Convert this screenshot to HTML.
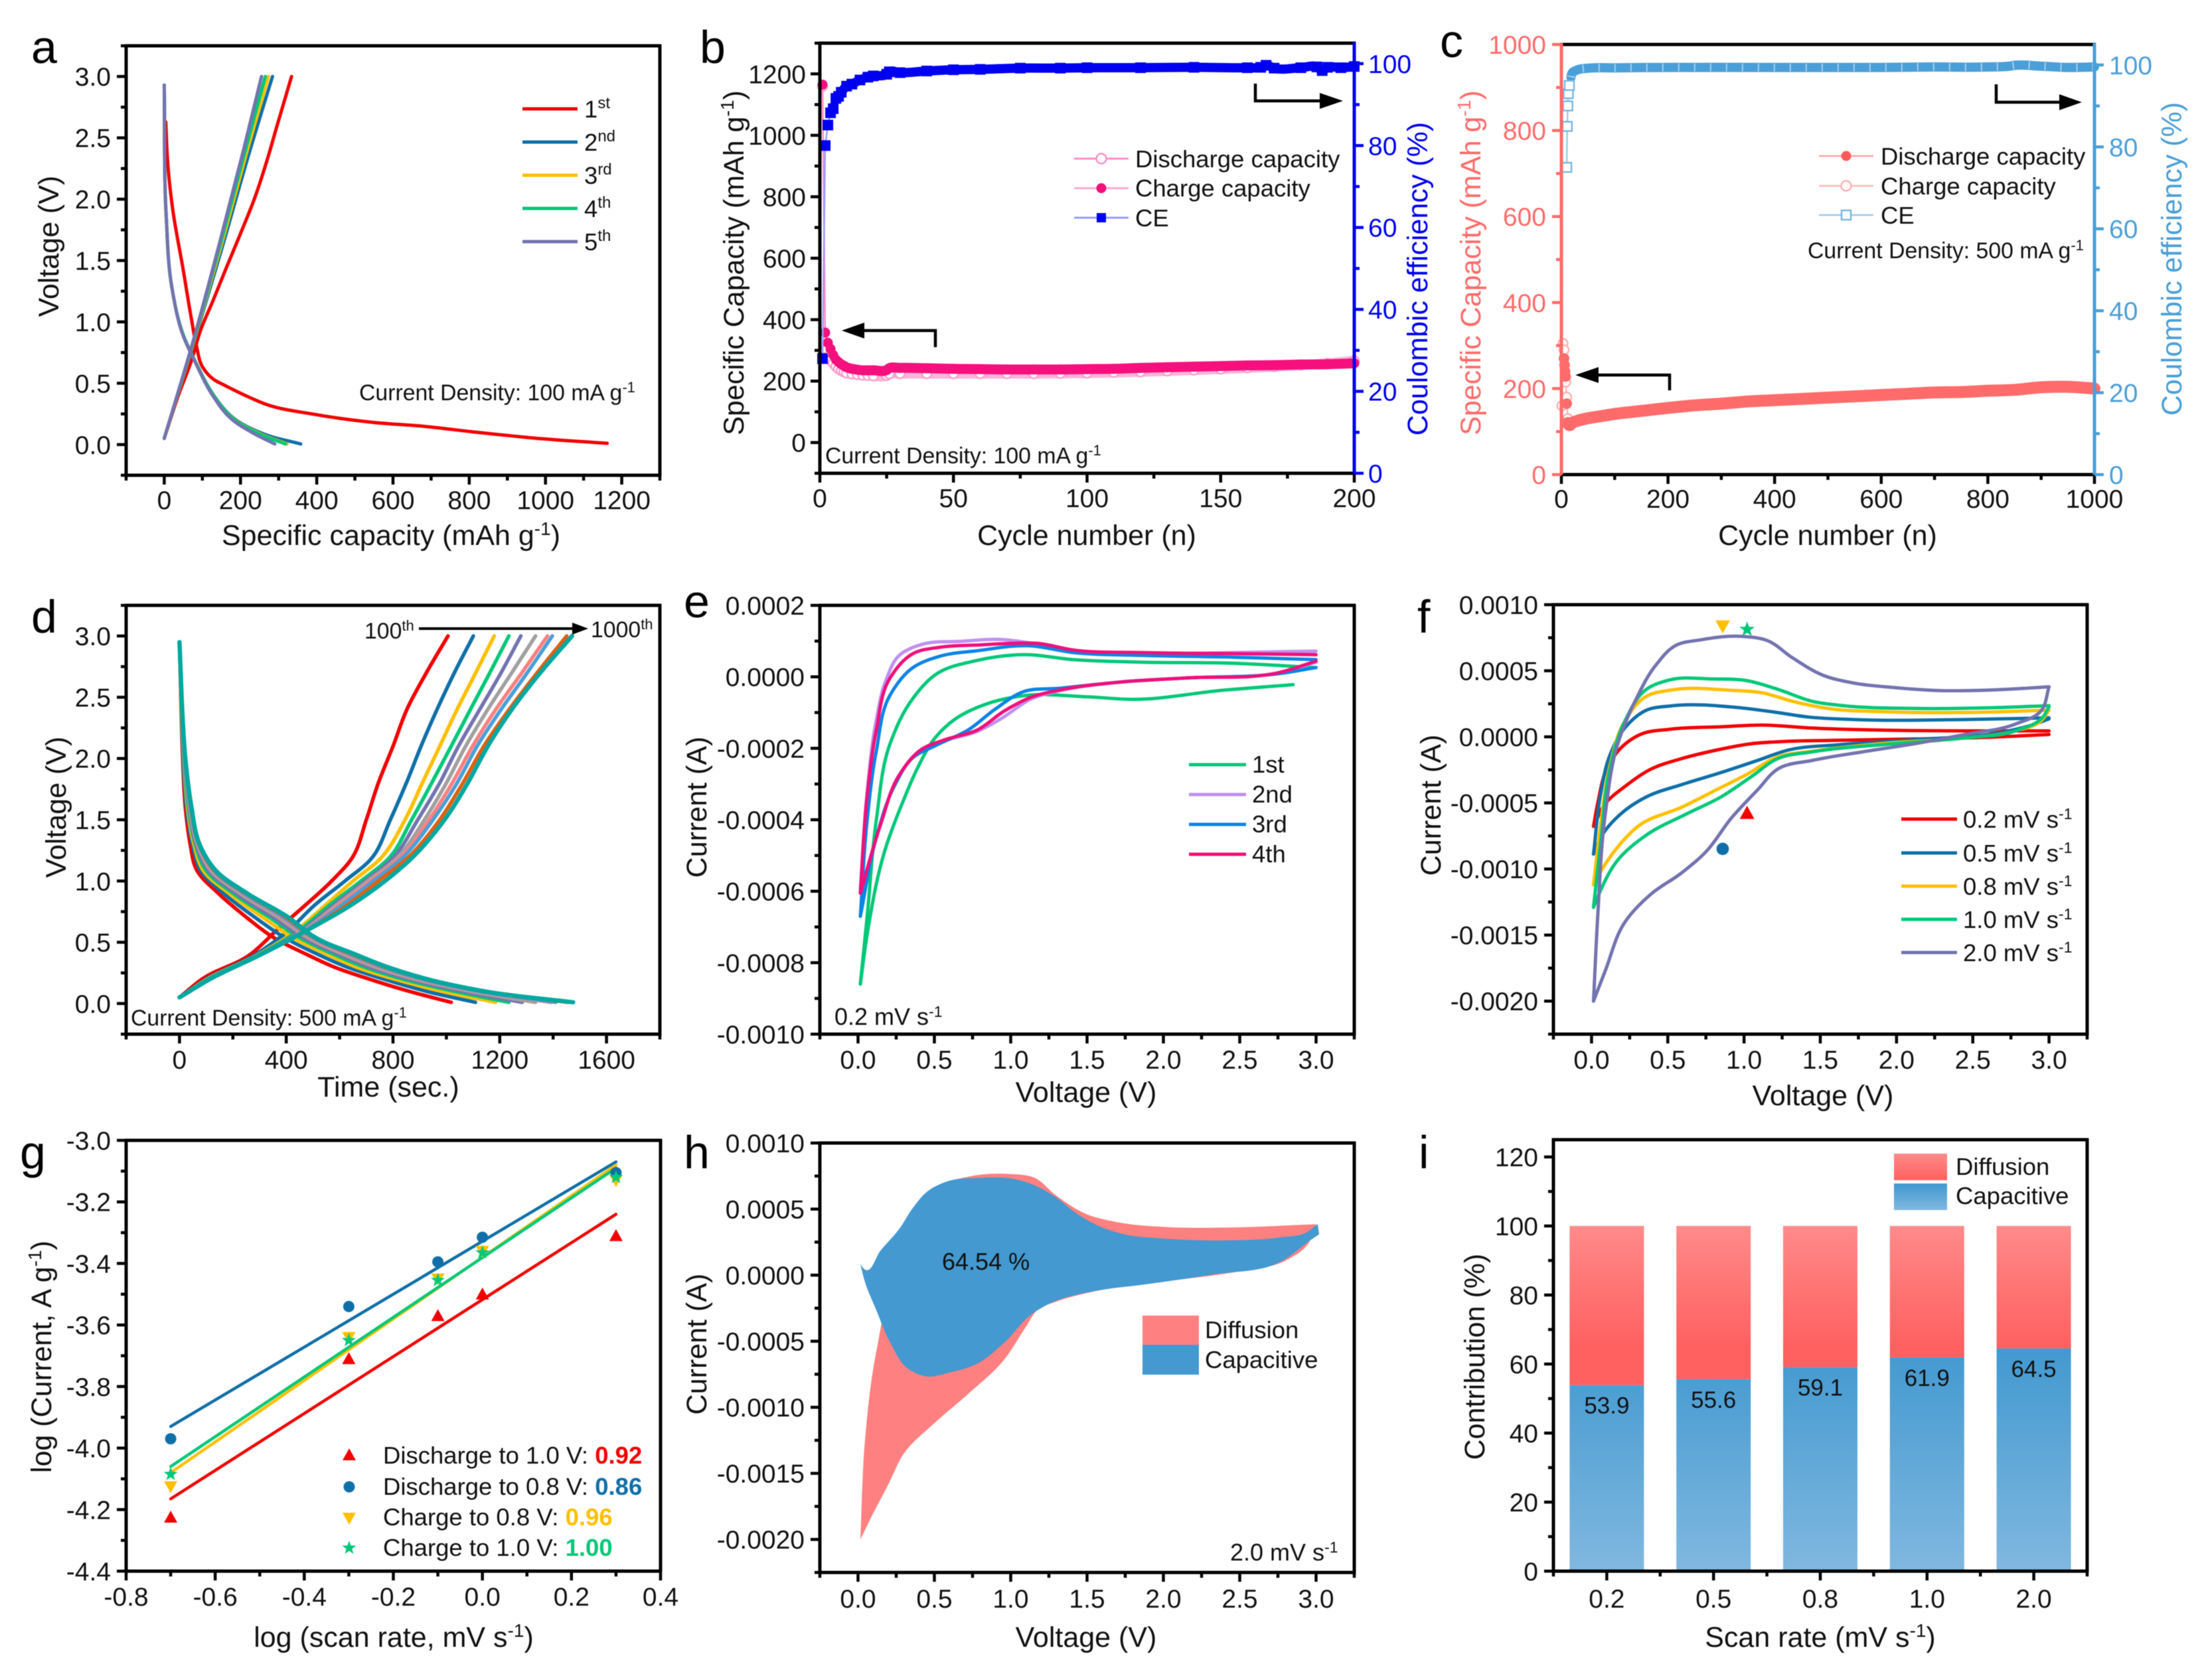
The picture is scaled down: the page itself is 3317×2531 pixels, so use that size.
<!DOCTYPE html>
<html lang="en">
<head>
<meta charset="utf-8">
<title>Electrochemical performance figure</title>
<style>
html,body{margin:0;padding:0;background:#fff;}
svg{display:block;font-family:"Liberation Sans",sans-serif;filter:blur(0.6px);}
.lt{font-size:70px;fill:#000;}
.at{font-size:43px;fill:#111;}
.lg{font-size:36.5px;fill:#111;}
.an{font-size:33.8px;fill:#111;}
.an2{font-size:36px;fill:#111;}
</style>
</head>
<body>
<svg id="figure" xmlns="http://www.w3.org/2000/svg" width="3317" height="2531" viewBox="0 0 3317 2531">
<defs>
<linearGradient id="grad-diff" x1="0" y1="0" x2="0" y2="1"><stop offset="0" stop-color="#ff8a8a"/><stop offset="1" stop-color="#ff6060"/></linearGradient>
<linearGradient id="grad-cap" x1="0" y1="0" x2="0" y2="1"><stop offset="0" stop-color="#4098d0"/><stop offset="1" stop-color="#80b8e0"/></linearGradient>
<linearGradient id="grad-cap-bar" gradientUnits="userSpaceOnUse" x1="0" y1="2020" x2="0" y2="2367"><stop offset="0" stop-color="#4098d0"/><stop offset="1" stop-color="#80b8e0"/></linearGradient>
<linearGradient id="grad-diff-bar" gradientUnits="userSpaceOnUse" x1="0" y1="1848" x2="0" y2="2030"><stop offset="0" stop-color="#ff8a8a"/><stop offset="1" stop-color="#ff6060"/></linearGradient>
</defs>
<rect width="3317" height="2531" fill="#fff"/>

<g id="panel-a">
  <g id="a-marks"></g>
  <text class="lt" x="47" y="95">a</text>
  <text class="at" x="589" y="821" text-anchor="middle">Specific capacity (mAh g<tspan dy="-15" font-size="28">-1</tspan><tspan dy="15">)</tspan></text>
  <text class="at" transform="translate(88 371) rotate(-90)" text-anchor="middle">Voltage (V)</text>
  <text class="an" x="541" y="603">Current Density: 100 mA g<tspan dy="-12" font-size="22">-1</tspan></text>
  <g>
    <line x1="787" x2="870" y1="164" y2="164" stroke="#f20000" stroke-width="5"/>
    <line x1="787" x2="870" y1="214" y2="214" stroke="#0f6fa8" stroke-width="5"/>
    <line x1="787" x2="870" y1="264" y2="264" stroke="#ffc000" stroke-width="5"/>
    <line x1="787" x2="870" y1="314" y2="314" stroke="#00c878" stroke-width="5"/>
    <line x1="787" x2="870" y1="364" y2="364" stroke="#7373b0" stroke-width="5"/>
    <text class="lg" x="880" y="177">1<tspan dy="-14" font-size="24">st</tspan></text>
    <text class="lg" x="880" y="227">2<tspan dy="-14" font-size="24">nd</tspan></text>
    <text class="lg" x="880" y="277">3<tspan dy="-14" font-size="24">rd</tspan></text>
    <text class="lg" x="880" y="327">4<tspan dy="-14" font-size="24">th</tspan></text>
    <text class="lg" x="880" y="377">5<tspan dy="-14" font-size="24">th</tspan></text>
  </g>
</g>

<g id="panel-b">
  <g id="b-marks"></g>
  <text class="lt" x="1054" y="95">b</text>
  <text class="at" x="1637" y="821" text-anchor="middle">Cycle number (n)</text>
  <text class="at" transform="translate(1120 396) rotate(-90)" text-anchor="middle">Specific Capacity (mAh g<tspan dy="-15" font-size="28">-1</tspan><tspan dy="15">)</tspan></text>
  <text class="at" transform="translate(2150 420) rotate(-90)" text-anchor="middle" style="fill:#0000f0">Coulombic efficiency (%)</text>
  <text class="an" x="1243" y="698">Current Density: 100 mA g<tspan dy="-12" font-size="22">-1</tspan></text>
  <g fill="none">
    <path d="M1409 523V498H1290" stroke="#000" stroke-width="4.5"/><path d="M1268 498L1302 486V510Z" fill="#000"/>
  </g>
  <g fill="none">
    <path d="M1891 126V152H2000" stroke="#000" stroke-width="4.5"/><path d="M2023 152L1988 140V164Z" fill="#000"/>
  </g>
  <g>
    <line x1="1618" x2="1700" y1="239" y2="239" stroke="#ff90c8" stroke-width="3"/>
    <circle cx="1659" cy="239" r="7.5" fill="#fff" stroke="#ff90c8" stroke-width="2.5"/>
    <line x1="1618" x2="1700" y1="283.5" y2="283.5" stroke="#ffaad4" stroke-width="3"/>
    <circle cx="1659" cy="283.5" r="7.5" fill="#f0107a"/>
    <line x1="1618" x2="1700" y1="328" y2="328" stroke="#9a9aff" stroke-width="3"/>
    <rect x="1652" y="321" width="14" height="14" fill="#0000f0"/>
    <text class="lg" x="1710" y="252">Discharge capacity</text>
    <text class="lg" x="1710" y="296">Charge capacity</text>
    <text class="lg" x="1710" y="341">CE</text>
  </g>
</g>

<g id="panel-c">
  <g id="c-marks"></g>
  <text class="lt" x="2169" y="86">c</text>
  <text class="at" x="2753" y="821" text-anchor="middle">Cycle number (n)</text>
  <text class="at" transform="translate(2230 396) rotate(-90)" text-anchor="middle" style="fill:#ff6b6b">Specific Capacity (mAh g<tspan dy="-15" font-size="28">-1</tspan><tspan dy="15">)</tspan></text>
  <text class="at" transform="translate(3286 390) rotate(-90)" text-anchor="middle" style="fill:#4a9fd8">Coulombic efficiency (%)</text>
  <text class="an" x="2723" y="389">Current Density: 500 mA g<tspan dy="-12" font-size="22">-1</tspan></text>
  <g fill="none">
    <path d="M2515 588V565H2395" stroke="#000" stroke-width="4.5"/><path d="M2373 565L2408 553V577Z" fill="#000"/>
  </g>
  <g fill="none">
    <path d="M3007 127V154H3115" stroke="#000" stroke-width="4.5"/><path d="M3136 154L3102 142V166Z" fill="#000"/>
  </g>
  <g>
    <line x1="2740" x2="2822" y1="235" y2="235" stroke="#ffa0a0" stroke-width="2.5"/>
    <circle cx="2781" cy="235" r="7.5" fill="#ff5a5a"/>
    <line x1="2740" x2="2822" y1="280" y2="280" stroke="#ffc0c0" stroke-width="3"/>
    <circle cx="2781" cy="280" r="7.5" fill="#fff" stroke="#ffb0b0" stroke-width="2.5"/>
    <line x1="2740" x2="2822" y1="324" y2="324" stroke="#9ccaec" stroke-width="2.5"/>
    <rect x="2774" y="317" width="14" height="14" fill="#fff" stroke="#7bb8e2" stroke-width="2.5"/>
    <text class="lg" x="2833" y="248">Discharge capacity</text>
    <text class="lg" x="2833" y="293">Charge capacity</text>
    <text class="lg" x="2833" y="337">CE</text>
  </g>
</g>

<g id="panel-d">
  <g id="d-marks"></g>
  <text class="lt" x="47" y="953">d</text>
  <text class="at" x="585" y="1652" text-anchor="middle">Time (sec.)</text>
  <text class="at" transform="translate(99 1216) rotate(-90)" text-anchor="middle">Voltage (V)</text>
  <text class="an" x="197" y="1545">Current Density: 500 mA g<tspan dy="-12" font-size="22">-1</tspan></text>
  <text class="an" x="549" y="962">100<tspan dy="-12" font-size="22">th</tspan></text>
  <text class="an" x="890" y="960">1000<tspan dy="-12" font-size="22">th</tspan></text>
  <g>
    <line x1="631" x2="870" y1="947" y2="947" stroke="#000" stroke-width="4"/><path d="M886 947L862 938V956Z" fill="#000"/>
  </g>
</g>

<g id="panel-e">
  <g id="e-marks"></g>
  <text class="lt" x="1030" y="930">e</text>
  <text class="at" x="1636" y="1660" text-anchor="middle">Voltage (V)</text>
  <text class="at" transform="translate(1064 1216) rotate(-90)" text-anchor="middle">Current (A)</text>
  <text class="an2" x="1257" y="1544">0.2 mV s<tspan dy="-12" font-size="23">-1</tspan></text>
  <g>
    <line x1="1791" x2="1877" y1="1152" y2="1152" stroke="#00c878" stroke-width="5"/>
    <line x1="1791" x2="1877" y1="1197" y2="1197" stroke="#c090f0" stroke-width="5"/>
    <line x1="1791" x2="1877" y1="1242" y2="1242" stroke="#0a84e8" stroke-width="5"/>
    <line x1="1791" x2="1877" y1="1287" y2="1287" stroke="#f0107a" stroke-width="5"/>
    <text class="lg" x="1886" y="1164">1st</text>
    <text class="lg" x="1886" y="1209">2nd</text>
    <text class="lg" x="1886" y="1254">3rd</text>
    <text class="lg" x="1886" y="1299">4th</text>
  </g>
</g>

<g id="panel-f">
  <g id="f-marks"></g>
  <text class="lt" x="2135" y="953">f</text>
  <text class="at" x="2746" y="1665" text-anchor="middle">Voltage (V)</text>
  <text class="at" transform="translate(2170 1213) rotate(-90)" text-anchor="middle">Current (A)</text>
  <g>
    <line x1="2864" x2="2948" y1="1234" y2="1234" stroke="#f20000" stroke-width="5"/>
    <line x1="2864" x2="2948" y1="1285" y2="1285" stroke="#0f6fa8" stroke-width="5"/>
    <line x1="2864" x2="2948" y1="1335" y2="1335" stroke="#ffc000" stroke-width="5"/>
    <line x1="2864" x2="2948" y1="1385" y2="1385" stroke="#00c878" stroke-width="5"/>
    <line x1="2864" x2="2948" y1="1435" y2="1435" stroke="#7373b0" stroke-width="5"/>
    <text class="lg" x="2957" y="1247">0.2 mV s<tspan dy="-13" font-size="23">-1</tspan></text>
    <text class="lg" x="2957" y="1298">0.5 mV s<tspan dy="-13" font-size="23">-1</tspan></text>
    <text class="lg" x="2957" y="1348">0.8 mV s<tspan dy="-13" font-size="23">-1</tspan></text>
    <text class="lg" x="2957" y="1398">1.0 mV s<tspan dy="-13" font-size="23">-1</tspan></text>
    <text class="lg" x="2957" y="1448">2.0 mV s<tspan dy="-13" font-size="23">-1</tspan></text>
  </g>
</g>

<g id="panel-g">
  <g id="g-marks"></g>
  <text class="lt" x="30" y="1760">g</text>
  <text class="at" x="593" y="2481" text-anchor="middle">log (scan rate, mV s<tspan dy="-15" font-size="28">-1</tspan><tspan dy="15">)</tspan></text>
  <text class="at" transform="translate(77 2044) rotate(-90)" text-anchor="middle">log (Current, A g<tspan dy="-15" font-size="28">-1</tspan><tspan dy="15">)</tspan></text>
  <g>
    <text class="lg" x="577" y="2205">Discharge to 1.0 V: <tspan fill="#f20000" font-weight="bold">0.92</tspan></text>
    <text class="lg" x="577" y="2252">Discharge to 0.8 V: <tspan fill="#0f6fa8" font-weight="bold">0.86</tspan></text>
    <text class="lg" x="577" y="2298">Charge to 0.8 V: <tspan fill="#ffc000" font-weight="bold">0.96</tspan></text>
    <text class="lg" x="577" y="2344">Charge to 1.0 V: <tspan fill="#00c878" font-weight="bold">1.00</tspan></text>
  </g>
</g>

<g id="panel-h">
  <g id="h-marks"></g>
  <text class="lt" x="1030" y="1760">h</text>
  <text class="at" x="1636" y="2481" text-anchor="middle">Voltage (V)</text>
  <text class="at" transform="translate(1064 2025) rotate(-90)" text-anchor="middle">Current (A)</text>
  <text class="an2" x="1419" y="1913">64.54 %</text>
  <text class="an2" x="1853" y="2351">2.0 mV s<tspan dy="-12" font-size="23">-1</tspan></text>
  <g>
    <rect x="1721" y="1982" width="85" height="44" fill="#ff8080"/>
    <rect x="1721" y="2026" width="85" height="45" fill="#4399d0"/>
    <text class="lg" x="1815" y="2016">Diffusion</text>
    <text class="lg" x="1815" y="2061">Capacitive</text>
  </g>
</g>

<g id="panel-i">
  <g id="i-marks"></g>
  <text class="lt" x="2137" y="1760">i</text>
  <text class="at" x="2742" y="2481" text-anchor="middle">Scan rate (mV s<tspan dy="-15" font-size="28">-1</tspan><tspan dy="15">)</tspan></text>
  <text class="at" transform="translate(2236 2044) rotate(-90)" text-anchor="middle">Contribution  (%)</text>
  <g>
    <rect x="2853" y="1738" width="80" height="40" fill="url(#grad-diff)"/>
    <rect x="2853" y="1783" width="80" height="40" fill="url(#grad-cap)"/>
    <text class="lg" x="2946" y="1770">Diffusion</text>
    <text class="lg" x="2946" y="1814">Capacitive</text>
  </g>
</g>
</svg>

<script>
/* ===== panel a: capacity (mAh/g) vs voltage (V) ===== */
const aXTicks=[0,200,400,600,800,1000,1200];
const aXLabels=['0','200','400','600','800','1000','1200'];
const vTicks325=[0,0.5,1,1.5,2,2.5,3];
const vLabels325=['0.0','0.5','1.0','1.5','2.0','2.5','3.0'];
const aDisV1st=[2.63,2.3,1.92,1.42,1.01,0.81,0.63,0.53,0.49,0.41,0.325,0.25,0.18,0.15,0.105,0.053,0.01];
const aDisC1st=[4,9,22,50,72,84,101,130,154,206,270,387,550,678,806,970,1162];
const aChgV1st=[0.05,0.4,0.69,0.93,1.16,1.42,1.72,2.0,2.3,2.6,3.0];
const aChgC1st=[0,37,72,95,126,160,200,236,268,296,334];
const aChgV=[0.05,0.9,1.63,2.39,3.0];
const aChgC2nd=[0,84,154,224,284];
const aChgC3rd=[0,83,150,217,273];
const aChgC4th=[0,82,147,212,265];
const aChgC5th=[0,81,144,207,255];
const aDisV=[2.93,1.87,1.28,0.9,0.66,0.4,0.22,0.09,0.005];
const aDisC2nd=[0,5,20,49,84,130,180,258,358];
const aDisC3rd=[0,5,20,49,84,130,178,250,322];
const aDisC4th=[0,5,20,49,84,130,177,247,318];
const aDisC5th=[0,5,20,48,83,127,172,235,290];

/* ===== panel b: cycling at 100 mA/g ===== */
const bXTicks=[0,50,100,150,200];
const bXLabels=['0','50','100','150','200'];
const bYTicks=[0,200,400,600,800,1000,1200];
const bYLabels=['0','200','400','600','800','1000','1200'];
const ceTicks=[0,20,40,60,80,100];
const ceLabels=['0','20','40','60','80','100'];
const bCycles=[1,2,3,4,5,6,7,8,9,10,12,14,16,18,20,25,26,30,40,50,60,70,80,90,100,110,120,130,140,150,160,170,180,190,200];
const bCharge=[1165,358,325,305,285,270,262,255,250,245,240,237,235,235,235,236,242,243,242,240,239,238,238,238,239,240,243,245,247,249,251,252,254,255,258];
const bDischarge=[1160,300,280,268,258,248,240,234,230,226,223,221,219,218,217,218,223,224,224,224,224,224,224,225,226,228,230,233,236,239,243,247,252,258,266];
const bCECycles=[1,2,3,4,5,6,7,8,10,12,15,18,20,25,26,30,40,50,60,75,90,100,120,140,160,165,167,170,180,186,188,190,195,200];
const bCE=[28,80,85,88,89,91.5,92,93,94.5,95,96,96.7,97,97.4,98,97.8,98.2,98.5,98.6,98.9,98.9,99,99,99.1,99,99.1,99.6,98.9,99,99.2,98.3,99.1,99,99.3];

/* ===== panel c: cycling at 500 mA/g ===== */
const cXTicks=[0,200,400,600,800,1000];
const cXLabels=['0','200','400','600','800','1000'];
const cYTicks=[0,200,400,600,800,1000];
const cYLabels=['0','200','400','600','800','1000'];
const cCycles=[5,6,7,8,10,12,15,20,30,50,75,100,150,200,250,300,350,400,450,500,550,600,650,700,750,800,850,900,950,1000];
const cDischarge=[270,255,240,228,165,120,115,120,125,131,136,141,148,155,161,165,170,173,176,179,182,185,188,191,192,195,197,203,204,200];
const cChargeCycles=[1,3,5,8,10,12,20];
const cCharge=[160,305,290,215,180,130,120];
const cCECycles=[10,11,12,13,15,18,20,30,50,100,200,400,600,700,800,840,850,900,950,1000];
const cCE=[75,85,90,93,95,97,98,98.8,99.2,99.3,99.4,99.4,99.4,99.5,99.5,99.7,99.9,99.7,99.4,99.5];

/* ===== panel d: voltage vs time for ten cycles ===== */
const dXTicks=[0,400,800,1200,1600];
const dXLabels=['0','400','800','1200','1600'];
const dChgV=[0.05,0.2,0.4,0.6,0.8,1.0,1.2,1.5,1.8,2.1,2.4,2.7,3.0];
const dChg100=[0,85,265,365,470,570,650,700,745,800,852,925,1006];
const dChg200=[0,100,285,410,505,620,725,790,850,905,965,1030,1101];
const dChg300=[0,105,295,440,545,650,760,845,910,975,1040,1110,1179];
const dChg400=[0,108,298,450,560,680,790,870,945,1018,1090,1163,1234];
const dChg500=[0,110,300,460,575,695,805,893,975,1045,1125,1205,1279];
const dChg600=[0,112,302,468,585,705,820,918,1000,1072,1155,1245,1334];
const dChg700=[0,112,303,472,595,715,830,935,1022,1098,1185,1283,1379];
const dChg800=[0,113,303,474,605,725,840,950,1040,1115,1205,1303,1397];
const dChg900=[0,114,305,478,625,745,860,975,1062,1140,1235,1340,1451];
const dChg1000=[0,115,305,480,640,770,876,993,1080,1155,1245,1352,1471];
const dDisV=[2.95,2.5,2.0,1.6,1.3,1.1,0.9,0.7,0.55,0.4,0.3,0.2,0.1,0.01];
const dDis100=[0,5,12,22,40,62,145,253,344,477,577,710,860,1018];
const dDis200=[0,6,14,26,48,75,165,285,385,520,625,765,925,1109];
const dDis300=[0,6,16,30,54,85,185,315,415,555,660,805,985,1184];
const dDis400=[0,7,17,33,59,95,200,340,440,580,690,835,1030,1234];
const dDis500=[0,7,18,36,62,104,212,355,455,598,710,860,1060,1284];
const dDis600=[0,7,19,38,66,112,225,372,470,615,730,880,1090,1334];
const dDis700=[0,8,20,40,69,118,235,385,480,630,745,895,1110,1392];
const dDis800=[0,8,20,41,71,122,240,392,488,640,755,905,1120,1410];
const dDis900=[0,8,21,43,73,126,248,402,495,650,768,918,1135,1455];
const dDis1000=[0,8,22,45,75,130,253,410,500,660,776,926,1142,1475];

/* ===== panel e: CV at 0.2 mV/s, current in units of 1e-4 A ===== */
const voltTicks=[0,0.5,1,1.5,2,2.5,3];
const voltLabels=['0.0','0.5','1.0','1.5','2.0','2.5','3.0'];
const eYTicks=[2,0,-2,-4,-6,-8,-10];
const eYLabels=['0.0002','0.0000','-0.0002','-0.0004','-0.0006','-0.0008','-0.0010'];
const e1UpV=[0.015,0.06,0.12,0.21,0.36,0.51,0.78,1.08,1.41,1.86,2.46,3.0];
const e1UpI=[-8.6,-6.7,-4,-1.87,-0.6,0.07,0.46,0.62,0.48,0.41,0.38,0.26];
const e1DnV=[2.85,2.4,1.8,1.5,1.08,0.84,0.63,0.51,0.39,0.3,0.18,0.06,0.015];
const e1DnI=[-0.22,-0.37,-0.63,-0.56,-0.53,-0.76,-1.2,-1.68,-2.55,-3.43,-4.8,-7.2,-8.6];
const e2UpV=[0.015,0.06,0.12,0.18,0.27,0.42,0.66,0.96,1.14,1.41,1.86,2.46,3.0];
const e2UpI=[-5.95,-3.2,-1.2,-0.13,0.6,0.91,0.99,1.04,0.94,0.75,0.65,0.68,0.72];
const e2DnV=[3.0,2.76,2.16,1.71,1.32,1.14,0.93,0.78,0.57,0.42,0.27,0.15,0.015];
const e2DnI=[0.41,0.12,-0.03,-0.15,-0.39,-0.61,-1.19,-1.53,-1.78,-2.02,-2.75,-4.1,-6.05];
const e3UpV=[0.015,0.06,0.12,0.21,0.36,0.54,0.78,1.11,1.41,1.86,2.46,3.0];
const e3UpI=[-6.7,-4,-2.07,-0.51,0.26,0.58,0.73,0.87,0.68,0.6,0.55,0.48];
const e3DnV=[3.0,2.76,2.16,1.71,1.32,1.08,0.9,0.72,0.51,0.36,0.24,0.12,0.015];
const e3DnI=[0.26,0.09,-0.03,-0.15,-0.32,-0.42,-0.9,-1.49,-1.92,-2.26,-3.04,-4.5,-6.7];
const e4UpV=[0.015,0.06,0.12,0.21,0.36,0.54,0.78,1.02,1.17,1.41,1.86,2.46,3.0];
const e4UpI=[-6.05,-3.33,-1.49,-0.03,0.65,0.83,0.89,0.94,0.94,0.75,0.68,0.65,0.62];
const e4DnV=[3.0,2.76,2.16,1.71,1.32,1.14,0.96,0.78,0.57,0.42,0.27,0.15,0.015];
const e4DnI=[0.44,0.12,-0.03,-0.15,-0.37,-0.56,-0.95,-1.49,-1.76,-2.02,-2.75,-4.1,-6.05];

/* ===== panel f: CV at rates, current in units of 1e-4 A ===== */
const fYTicks=[10,5,0,-5,-10,-15,-20];
const fYLabels=['0.0010','0.0005','0.0000','-0.0005','-0.0010','-0.0015','-0.0020'];
const f02UpV=[0.013,0.04,0.11,0.19,0.32,0.52,0.85,1.12,1.45,1.95,2.45,3.0];
const f02UpI=[-6.77,-5.06,-2.18,-0.87,0.18,0.58,0.76,0.89,0.66,0.5,0.45,0.45];
const f02DnV=[3.0,2.61,2.12,1.62,1.29,1.05,0.82,0.59,0.39,0.22,0.09,0.013];
const f02DnI=[0.18,-0.03,-0.16,-0.26,-0.34,-0.52,-1,-1.65,-2.44,-3.75,-5.06,-6.77];
const f05UpV=[0.013,0.06,0.12,0.22,0.36,0.52,0.95,1.19,1.42,1.72,2.45,3.0];
const f05UpI=[-8.87,-4.3,-1.4,0.7,2.02,2.34,2.23,1.89,1.5,1.31,1.31,1.44];
const f05DnV=[3.0,2.91,2.71,2.12,1.62,1.29,1.09,0.85,0.59,0.36,0.19,0.07,0.013];
const f05DnI=[1.36,0.97,0.39,-0.21,-0.6,-1,-1.78,-2.7,-3.62,-4.54,-5.85,-7.43,-8.87];
const f08UpV=[0.013,0.06,0.12,0.22,0.36,0.52,0.92,1.12,1.32,1.55,1.95,2.45,3.0];
const f08UpI=[-11.2,-6.6,-2.2,1.23,3.07,3.54,3.52,3.33,2.68,2.15,1.89,1.84,2.02];
const f08DnV=[3.0,2.95,2.78,2.45,1.95,1.45,1.22,1.02,0.82,0.59,0.32,0.16,0.07,0.013];
const f08DnI=[2.02,1.23,0.45,-0.08,-0.47,-1.08,-1.52,-2.83,-4,-5.33,-6.64,-8.5,-10,-11.2];
const f10UpV=[0.013,0.06,0.12,0.22,0.36,0.52,0.79,1.02,1.22,1.45,1.65,2.12,2.61,3.0];
const f10UpI=[-12.9,-7.95,-2.44,1.23,3.6,4.33,4.38,4.25,3.6,2.68,2.36,2.15,2.2,2.36];
const f10DnV=[3.0,2.96,2.78,2.45,1.95,1.45,1.22,1.05,0.85,0.62,0.36,0.16,0.06,0.013];
const f10DnI=[2.28,1.5,0.45,-0.08,-0.55,-1.13,-1.65,-3,-4.54,-5.85,-7.43,-9.5,-11.6,-12.9];
const f20UpV=[0.013,0.04,0.09,0.17,0.29,0.42,0.55,0.72,0.99,1.15,1.32,1.52,1.72,1.98,2.28,2.61,3.0];
const f20UpI=[-20,-13.7,-5.85,-0.6,2.8,5.4,6.9,7.35,7.6,7.3,5.96,4.65,4.07,3.73,3.5,3.54,3.78];
const f20DnV=[3.0,2.95,2.78,2.45,2.12,1.78,1.45,1.22,1.09,0.92,0.75,0.59,0.39,0.22,0.09,0.013];
const f20DnI=[3.78,2,0.97,0.18,-0.52,-1.13,-1.78,-2.44,-4,-6.1,-8.7,-10.3,-11.9,-14,-17.7,-20];
const fPeakV=[1.02,0.86,0.86,1.02];
const fPeakI=[-5.77,-8.48,8.37,8.13];

/* ===== panel g: log current vs log scan rate ===== */
const gXTicks=[-0.8,-0.6,-0.4,-0.2,0,0.2,0.4];
const gXLabels=['-0.8','-0.6','-0.4','-0.2','0.0','0.2','0.4'];
const gYTicks=[-3,-3.2,-3.4,-3.6,-3.8,-4,-4.2,-4.4];
const gYLabels=['-3.0','-3.2','-3.4','-3.6','-3.8','-4.0','-4.2','-4.4'];
const gRates=[-0.7,-0.3,-0.1,0,0.3];
const gDis10=[-4.225,-3.71,-3.57,-3.5,-3.31];
const gDis08=[-3.97,-3.54,-3.395,-3.315,-3.105];
const gChg08=[-4.125,-3.64,-3.45,-3.36,-3.13];
const gChg10=[-4.085,-3.65,-3.455,-3.365,-3.12];
const gFitX=[-0.7,0.3];
const gFitDis10=[-4.165,-3.24];
const gFitDis08=[-3.93,-3.07];
const gFitChg08=[-4.08,-3.08];
const gFitChg10=[-4.06,-3.09];

/* ===== panel h: contribution at 2 mV/s, current in units of 1e-4 A ===== */
const hTotalUpV=[0.015,0.045,0.09,0.15,0.2,0.3,0.4,0.5,0.7,1.0,1.15,1.3,1.5,1.7,2.0,2.4,3.0];
const hTotalUpI=[-20,-12.6,-7.8,-3.87,-0.5,2.7,5.2,6.6,7.4,7.65,7.4,6,4.6,4,3.65,3.6,3.85];
const hTotalDnV=[3.0,2.95,2.8,2.5,2,1.5,1.3,1.18,1.1,0.95,0.72,0.5,0.3,0.2,0.1,0.015];
const hTotalDnI=[3.85,2.4,1.1,0.3,-0.5,-1.35,-2,-2.6,-3.9,-6.5,-9,-11.2,-13.5,-15.8,-18,-20];
const hCapUpV=[0.015,0.045,0.15,0.27,0.36,0.45,0.6,0.78,1.02,1.14,1.29,1.44,1.59,1.74,2,2.37,2.76,2.94,3.01];
const hCapUpI=[0.83,0.43,1.9,3.5,5.1,6.3,7.15,7.36,7.28,6.88,5.94,4.6,3.66,3.1,2.77,2.63,2.85,3.25,3.87];
const hCapDnV=[3.02,2.97,2.76,2.31,1.86,1.56,1.26,1.14,0.96,0.78,0.6,0.45,0.33,0.21,0.12,0.045,0.015];
const hCapDnI=[3.1,2.7,0.97,0.03,-0.73,-1.18,-2.12,-2.93,-5.08,-6.7,-7.37,-7.66,-7.1,-5.08,-2.66,-0.5,0.83];

/* ===== panel i: capacitive share per scan rate ===== */
const iCategories=['0.2','0.5','0.8','1.0','2.0'];
const iCapacitive=[53.9,55.6,59.1,61.9,64.5];
const iBarLabels=['53.9','55.6','59.1','61.9','64.5'];
const iTotal=[100,100,100,100,100];
const iYTicks=[0,20,40,60,80,100,120];
const iYLabels=['0','20','40','60','80','100','120'];

/* ===== drawing helpers ===== */
const NS='http://www.w3.org/2000/svg';
const RED='#f20000',BLUE='#0f6fa8',YEL='#ffc000',GRN='#00c878',PUR='#7373b0';
const TICK_FS=39;
function make(parent,tag,attrs,name){
  const el=document.createElementNS(NS,tag);
  for(const k in attrs){el.setAttribute(k,attrs[k]);}
  
  
  parent.appendChild(el);
  return el;
}
function linear(d0,d1,r0,r1){return v=>r0+(v-d0)/(d1-d0)*(r1-r0);}
function curve(xs,ys,X,Y){
  const p=xs.map((v,i)=>[X(v),Y(ys[i])]);
  const dir=i=>{
    const a=p[i-1]||p[i],b=p[i],c=p[i+1]||p[i];
    const l1=Math.hypot(b[0]-a[0],b[1]-a[1]),l2=Math.hypot(c[0]-b[0],c[1]-b[1]);
    let dx,dy;
    if(l1===0){dx=c[0]-b[0];dy=c[1]-b[1];}
    else if(l2===0){dx=b[0]-a[0];dy=b[1]-a[1];}
    else{
      dx=(b[0]-a[0])/l1*l2+(c[0]-b[0])/l2*l1;
      dy=(b[1]-a[1])/l1*l2+(c[1]-b[1])/l2*l1;
    }
    const n=Math.hypot(dx,dy)||1;
    return [dx/n,dy/n];
  };
  let d='M'+p[0][0].toFixed(1)+' '+p[0][1].toFixed(1);
  for(let i=0;i<p.length-1;i++){
    const b=p[i],c=p[i+1],t1=dir(i),t2=dir(i+1),l=Math.hypot(c[0]-b[0],c[1]-b[1])/3;
    d+='C'+(b[0]+t1[0]*l).toFixed(1)+' '+(b[1]+t1[1]*l).toFixed(1)+' '+(c[0]-t2[0]*l).toFixed(1)+' '+(c[1]-t2[1]*l).toFixed(1)+' '+c[0].toFixed(1)+' '+c[1].toFixed(1);
  }
  return d;
}
function trace(g,xs,ys,X,Y,color,width,name){
  return make(g,'path',{d:curve(xs,ys,X,Y),fill:'none',stroke:color,'stroke-width':width,'stroke-linecap':'round','stroke-linejoin':'round'},name);
}
function straight(g,xs,ys,X,Y,color,width,name){
  const pts=xs.map((v,i)=>X(v).toFixed(1)+','+Y(ys[i]).toFixed(1)).join(' ');
  return make(g,'polyline',{points:pts,fill:'none',stroke:color,'stroke-width':width,'stroke-linejoin':'round'},name);
}
function ticksFor(g,o){
  const color=o.color||'#000';
  const isX=o.side==='bottom';
  const dir=(o.side==='left')?-1:1;
  const grp=make(g,'g',{},o.name);
  const tick=(v,len,tname)=>{
    const p=o.scale(v);
    const at=isX?{x1:p,x2:p,y1:o.pos,y2:o.pos+len}:{x1:o.pos,x2:o.pos+dir*len,y1:p,y2:p};
    at.stroke=color;at['stroke-width']=4.5;
    make(grp,'line',at,tname);
  };
  o.major.forEach((v,i)=>{
    tick(v,14,o.name+'-tick');
    const p=o.scale(v);
    const t=isX
      ?make(grp,'text',{x:p,y:o.labelAt,'text-anchor':'middle','font-size':TICK_FS,fill:color==='#000'?'#111':color},o.name+'-label')
      :make(grp,'text',{x:o.labelAt,y:p+14,'text-anchor':o.side==='left'?'end':'start','font-size':TICK_FS,fill:color==='#000'?'#111':color},o.name+'-label');
    t.textContent=o.labels[i];
  });
  const lo=Math.min(o.dom[0],o.dom[1]),hi=Math.max(o.dom[0],o.dom[1]);
  const base=o.major[0];
  for(let k=Math.ceil((lo-base)/o.minorStep-1e-6);base+k*o.minorStep<=hi+1e-6;k++){
    const v=base+k*o.minorStep;
    if(!o.major.some(m=>Math.abs(m-v)<1e-6)){tick(v,8,o.name+'-minor-tick');}
  }
}
function frame(g,f,leftColor,rightColor){
  const w=5;
  const grp=make(g,'g',{},'plot-frame');
  make(grp,'line',{x1:f.l-2,x2:f.r+2,y1:f.t,y2:f.t,stroke:'#000','stroke-width':w},'frame-top');
  make(grp,'line',{x1:f.l-2,x2:f.r+2,y1:f.b,y2:f.b,stroke:'#000','stroke-width':w},'frame-bottom');
  make(grp,'line',{x1:f.l,x2:f.l,y1:f.t-2,y2:f.b+2,stroke:leftColor||'#000','stroke-width':w},'frame-left');
  make(grp,'line',{x1:f.r,x2:f.r,y1:f.t-2,y2:f.b+2,stroke:rightColor||'#000','stroke-width':w},'frame-right');
}
function marker(g,type,cx,cy,s,color,name){
  if(type==='circle'){return make(g,'circle',{cx:cx,cy:cy,r:s*0.85,fill:color},name);}
  let pts;
  if(type==='up'){pts=[[cx,cy-s],[cx+s,cy+s*0.8],[cx-s,cy+s*0.8]];}
  else if(type==='down'){pts=[[cx,cy+s],[cx+s,cy-s*0.8],[cx-s,cy-s*0.8]];}
  else{
    pts=[];
    for(let i=0;i<10;i++){
      const r=(i%2===0)?s*1.1:s*0.45,a=-Math.PI/2+i*Math.PI/5;
      pts.push([cx+r*Math.cos(a),cy+r*Math.sin(a)]);
    }
  }
  return make(g,'polygon',{points:pts.map(q=>q[0].toFixed(1)+','+q[1].toFixed(1)).join(' '),fill:color},name);
}
const $=id=>document.getElementById(id);

/* ----- panel a ----- */
(function(){
  const f={l:190,r:994,t:69,b:716},g=$('a-marks');
  const X=linear(-100,1300,f.l,f.r),Y=linear(-0.25,3.25,f.b,f.t);
  trace(g,aDisC1st,aDisV1st,X,Y,RED,5,'discharge-curve-1st');
  trace(g,aChgC1st,aChgV1st,X,Y,RED,5,'charge-curve-1st');
  trace(g,aDisC2nd,aDisV,X,Y,BLUE,5,'discharge-curve-2nd');
  trace(g,aChgC2nd,aChgV,X,Y,BLUE,5,'charge-curve-2nd');
  trace(g,aDisC3rd,aDisV,X,Y,YEL,5,'discharge-curve-3rd');
  trace(g,aChgC3rd,aChgV,X,Y,YEL,5,'charge-curve-3rd');
  trace(g,aDisC4th,aDisV,X,Y,GRN,5,'discharge-curve-4th');
  trace(g,aChgC4th,aChgV,X,Y,GRN,5,'charge-curve-4th');
  trace(g,aDisC5th,aDisV,X,Y,PUR,5,'discharge-curve-5th');
  trace(g,aChgC5th,aChgV,X,Y,PUR,5,'charge-curve-5th');
  frame(g,f);
  ticksFor(g,{side:'bottom',pos:f.b,scale:X,major:aXTicks,labels:aXLabels,minorStep:100,dom:[-100,1300],labelAt:767,name:'x-axis'});
  ticksFor(g,{side:'left',pos:f.l,scale:Y,major:vTicks325,labels:vLabels325,minorStep:0.25,dom:[-0.25,3.25],labelAt:167,name:'y-axis'});
})();

/* ----- panel b ----- */
(function(){
  const f={l:1235,r:2040,t:65,b:713},g=$('b-marks');
  const X=linear(0,200,f.l,f.r),Y=linear(-100,1300,f.b,f.t),YR=linear(0,105,f.b,f.t);
  const band=8;
  straight(g,bCycles,bDischarge,X,Y,'#ffb4d8',2.5,'discharge-capacity-line');
  trace(g,bCycles.slice(band),bDischarge.slice(band),X,Y,'#ffb4d8',15,'discharge-capacity-band');
  bCycles.forEach((c,i)=>{
    make(g,'circle',{cx:X(c),cy:Y(bDischarge[i]),r:7,fill:'#fff',stroke:'#ff9ccc','stroke-width':2.5},'discharge-point');
  });
  straight(g,bCycles,bCharge,X,Y,'#ff8cc4',2.5,'charge-capacity-line');
  trace(g,bCycles.slice(band),bCharge.slice(band),X,Y,'#f5107e',15,'charge-capacity-band');
  bCycles.forEach((c,i)=>{
    make(g,'circle',{cx:X(c),cy:Y(bCharge[i]),r:7.5,fill:'#f5107e'},'charge-point');
  });
  straight(g,bCECycles,bCE,X,YR,'#9a9aff',2.5,'ce-line');
  trace(g,bCECycles.slice(7),bCE.slice(7),X,YR,'#0000f0',14,'ce-band');
  bCECycles.forEach((c,i)=>{
    make(g,'rect',{x:X(c)-8,y:YR(bCE[i])-8,width:16,height:16,fill:'#0000f0'},'ce-point');
  });
  frame(g,f,'#000','#0000f0');
  ticksFor(g,{side:'bottom',pos:f.b,scale:X,major:bXTicks,labels:bXLabels,minorStep:25,dom:[0,200],labelAt:764,name:'x-axis'});
  ticksFor(g,{side:'left',pos:f.l,scale:Y,major:bYTicks,labels:bYLabels,minorStep:100,dom:[-100,1300],labelAt:1214,name:'y-axis'});
  ticksFor(g,{side:'right',pos:f.r,scale:YR,major:ceTicks,labels:ceLabels,minorStep:10,dom:[0,105],labelAt:2061,color:'#0000f0',name:'right-y-axis'});
})();

/* ----- panel c ----- */
(function(){
  const f={l:2352,r:3155,t:67,b:715},g=$('c-marks');
  const X=linear(0,1000,f.l,f.r),Y=linear(0,1000,f.b,f.t),YR=linear(0,105,f.b,f.t);
  const CAP='#ff6b6b',CEC='#4a9fd8';
  straight(g,cChargeCycles,cCharge,X,Y,'#ffb8b8',2.5,'charge-capacity-line');
  cChargeCycles.forEach((c,i)=>{
    make(g,'circle',{cx:X(c),cy:Y(cCharge[i]),r:7,fill:'#fff',stroke:'#ffb0b0','stroke-width':2.5},'charge-point');
  });
  trace(g,cCycles.slice(5),cDischarge.slice(5),X,Y,CAP,18,'discharge-capacity-band');
  cCycles.forEach((c,i)=>{
    make(g,'circle',{cx:X(c),cy:Y(cDischarge[i]),r:8,fill:CAP},'discharge-point');
  });
  straight(g,cCECycles,cCE,X,YR,'#9ccaec',2.5,'ce-line');
  make(g,'rect',{x:X(cCECycles[0])-7,y:YR(cCE[0])-7,width:14,height:14,fill:'#fff',stroke:'#7bb8e2','stroke-width':2.5},'ce-first-point');
  trace(g,cCECycles.slice(5),cCE.slice(5),X,YR,CEC,14,'ce-band');
  const notch=trace(g,cCECycles.slice(5),cCE.slice(5),X,YR,'#a4d0ee',12,'ce-band-notches');
  notch.setAttribute('stroke-dasharray','2 22');
  notch.setAttribute('stroke-linecap','butt');
  cCECycles.slice(1,5).forEach((c,i)=>{
    make(g,'rect',{x:X(c)-7,y:YR(cCE[i+1])-7,width:14,height:14,fill:'#fff',stroke:'#7bb8e2','stroke-width':2.5},'ce-point');
  });
  frame(g,f,CAP,CEC);
  ticksFor(g,{side:'bottom',pos:f.b,scale:X,major:cXTicks,labels:cXLabels,minorStep:100,dom:[0,1000],labelAt:765,name:'x-axis'});
  ticksFor(g,{side:'left',pos:f.l,scale:Y,major:cYTicks,labels:cYLabels,minorStep:100,dom:[0,1000],labelAt:2329,color:CAP,name:'y-axis'});
  ticksFor(g,{side:'right',pos:f.r,scale:YR,major:ceTicks,labels:ceLabels,minorStep:10,dom:[0,105],labelAt:3177,color:CEC,name:'right-y-axis'});
})();

/* ----- panel d ----- */
(function(){
  const f={l:190,r:994,t:912,b:1558},g=$('d-marks');
  const X=linear(-200,1800,f.l,f.r),Y=linear(-0.25,3.25,f.b,f.t);
  const cols=[RED,BLUE,YEL,GRN,PUR,'#a0a0a0','#ff8080','#4a9fd8','#e06010','#00a8a0'];
  const chg=[dChg100,dChg200,dChg300,dChg400,dChg500,dChg600,dChg700,dChg800,dChg900,dChg1000];
  const dis=[dDis100,dDis200,dDis300,dDis400,dDis500,dDis600,dDis700,dDis800,dDis900,dDis1000];
  chg.forEach((t,i)=>{
    trace(g,dis[i],dDisV,X,Y,cols[i],i===9?6.5:5.5,'discharge-curve');
    trace(g,t,dChgV,X,Y,cols[i],i===9?6.5:5.5,'charge-curve');
  });
  frame(g,f);
  ticksFor(g,{side:'bottom',pos:f.b,scale:X,major:dXTicks,labels:dXLabels,minorStep:200,dom:[-200,1800],labelAt:1610,name:'x-axis'});
  ticksFor(g,{side:'left',pos:f.l,scale:Y,major:vTicks325,labels:vLabels325,minorStep:0.25,dom:[-0.25,3.25],labelAt:167,name:'y-axis'});
})();

/* ----- panel e ----- */
(function(){
  const f={l:1235,r:2040,t:912,b:1558},g=$('e-marks');
  const X=linear(-0.25,3.25,f.l,f.r),Y=linear(-10,2,f.b,f.t);
  trace(g,e1UpV,e1UpI,X,Y,GRN,5,'cv-1st-anodic');
  trace(g,e1DnV,e1DnI,X,Y,GRN,5,'cv-1st-cathodic');
  trace(g,e2UpV,e2UpI,X,Y,'#c090f0',5,'cv-2nd-anodic');
  trace(g,e2DnV,e2DnI,X,Y,'#c090f0',5,'cv-2nd-cathodic');
  trace(g,e3UpV,e3UpI,X,Y,'#0a84e8',5,'cv-3rd-anodic');
  trace(g,e3DnV,e3DnI,X,Y,'#0a84e8',5,'cv-3rd-cathodic');
  trace(g,e4UpV,e4UpI,X,Y,'#f0107a',5,'cv-4th-anodic');
  trace(g,e4DnV,e4DnI,X,Y,'#f0107a',5,'cv-4th-cathodic');
  frame(g,f);
  ticksFor(g,{side:'bottom',pos:f.b,scale:X,major:voltTicks,labels:voltLabels,minorStep:0.25,dom:[-0.25,3.25],labelAt:1610,name:'x-axis'});
  ticksFor(g,{side:'left',pos:f.l,scale:Y,major:eYTicks,labels:eYLabels,minorStep:1,dom:[-10,2],labelAt:1212,name:'y-axis'});
})();

/* ----- panel f ----- */
(function(){
  const f={l:2340,r:3144,t:911,b:1558},g=$('f-marks');
  const X=linear(-0.25,3.25,f.l,f.r),Y=linear(-22.5,10,f.b,f.t);
  trace(g,f02UpV,f02UpI,X,Y,RED,5,'cv-0-2-anodic');
  trace(g,f02DnV,f02DnI,X,Y,RED,5,'cv-0-2-cathodic');
  trace(g,f05UpV,f05UpI,X,Y,BLUE,5,'cv-0-5-anodic');
  trace(g,f05DnV,f05DnI,X,Y,BLUE,5,'cv-0-5-cathodic');
  trace(g,f08UpV,f08UpI,X,Y,YEL,5,'cv-0-8-anodic');
  trace(g,f08DnV,f08DnI,X,Y,YEL,5,'cv-0-8-cathodic');
  trace(g,f10UpV,f10UpI,X,Y,GRN,5,'cv-1-0-anodic');
  trace(g,f10DnV,f10DnI,X,Y,GRN,5,'cv-1-0-cathodic');
  trace(g,f20UpV,f20UpI,X,Y,PUR,5,'cv-2-0-anodic');
  trace(g,f20DnV,f20DnI,X,Y,PUR,5,'cv-2-0-cathodic');
  const types=['up','circle','down','star'],cols=[RED,BLUE,YEL,GRN];
  fPeakV.forEach((v,i)=>{
    marker(g,types[i],X(v),Y(fPeakI[i]),11,cols[i],'peak-marker');
  });
  frame(g,f);
  ticksFor(g,{side:'bottom',pos:f.b,scale:X,major:voltTicks,labels:voltLabels,minorStep:0.25,dom:[-0.25,3.25],labelAt:1610,name:'x-axis'});
  ticksFor(g,{side:'left',pos:f.l,scale:Y,major:fYTicks,labels:fYLabels,minorStep:2.5,dom:[-22.5,10],labelAt:2317,name:'y-axis'});
})();

/* ----- panel g ----- */
(function(){
  const f={l:190,r:995,t:1718,b:2367},g=$('g-marks');
  const X=linear(-0.8,0.4,f.l,f.r),Y=linear(-4.4,-3,f.b,f.t);
  const series=[[gDis10,gFitDis10,'up',RED],[gDis08,gFitDis08,'circle',BLUE],[gChg08,gFitChg08,'down',YEL],[gChg10,gFitChg10,'star',GRN]];
  series.forEach(s=>{
    trace(g,gFitX,s[1],X,Y,s[3],4.5,'fit-line');
  });
  series.forEach(s=>{
    gRates.forEach((r,i)=>{
      marker(g,s[2],X(r),Y(s[0][i]),10,s[3],'data-point');
    });
  });
  const lg=make(g,'g',{},'legend-markers');
  marker(lg,'up',526,2192,10,RED,'legend-marker-discharge-1-0');
  marker(lg,'circle',526,2240,10,BLUE,'legend-marker-discharge-0-8');
  marker(lg,'down',526,2287,10,YEL,'legend-marker-charge-0-8');
  marker(lg,'star',526,2332,10,GRN,'legend-marker-charge-1-0');
  frame(g,f);
  ticksFor(g,{side:'bottom',pos:f.b,scale:X,major:gXTicks,labels:gXLabels,minorStep:0.1,dom:[-0.8,0.4],labelAt:2419,name:'x-axis'});
  ticksFor(g,{side:'left',pos:f.l,scale:Y,major:gYTicks,labels:gYLabels,minorStep:0.1,dom:[-4.4,-3],labelAt:167,name:'y-axis'});
})();

/* ----- panel h ----- */
(function(){
  const f={l:1235,r:2040,t:1722,b:2369},g=$('h-marks');
  const X=linear(-0.25,3.25,f.l,f.r),Y=linear(-22.5,10,f.b,f.t);
  const total=curve(hTotalUpV,hTotalUpI,X,Y)+curve(hTotalDnV,hTotalDnI,X,Y).replace('M','L')+'Z';
  make(g,'path',{d:total,fill:'#ff8080'},'diffusion-area');
  const cap=curve(hCapUpV,hCapUpI,X,Y)+curve(hCapDnV,hCapDnI,X,Y).replace('M','L')+'Z';
  make(g,'path',{d:cap,fill:'#4399d0'},'capacitive-area');
  frame(g,f);
  ticksFor(g,{side:'bottom',pos:f.b,scale:X,major:voltTicks,labels:voltLabels,minorStep:0.25,dom:[-0.25,3.25],labelAt:2422,name:'x-axis'});
  ticksFor(g,{side:'left',pos:f.l,scale:Y,major:fYTicks,labels:fYLabels,minorStep:2.5,dom:[-22.5,10],labelAt:1212,name:'y-axis'});
})();

/* ----- panel i ----- */
(function(){
  const f={l:2340,r:3144,t:1717,b:2367},g=$('i-marks');
  const X=linear(0.5,5.5,f.l,f.r),Y=linear(0,125,f.b,f.t);
  const w=112;
  iCategories.forEach((c,i)=>{
    const cx=X(i+1);
    make(g,'rect',{x:cx-w/2,y:Y(iTotal[i]),width:w,height:Y(iCapacitive[i])-Y(iTotal[i]),fill:'url(#grad-diff-bar)'},'bar-diffusion-'+c.replace('.','-'));
    make(g,'rect',{x:cx-w/2,y:Y(iCapacitive[i]),width:w,height:Y(0)-Y(iCapacitive[i]),fill:'url(#grad-cap-bar)'},'bar-capacitive-'+c.replace('.','-'));
    const t=make(g,'text',{x:cx,y:Y(iCapacitive[i])+43,'text-anchor':'middle','font-size':35,fill:'#111'},'bar-value-'+c.replace('.','-'));
    t.textContent=iBarLabels[i];
  });
  frame(g,f);
  ticksFor(g,{side:'bottom',pos:f.b,scale:X,major:[1,2,3,4,5],labels:iCategories,minorStep:0.5,dom:[0.5,5.5],labelAt:2422,name:'x-axis'});
  ticksFor(g,{side:'left',pos:f.l,scale:Y,major:iYTicks,labels:iYLabels,minorStep:10,dom:[0,125],labelAt:2317,name:'y-axis'});
})();
</script>
</body>
</html>
